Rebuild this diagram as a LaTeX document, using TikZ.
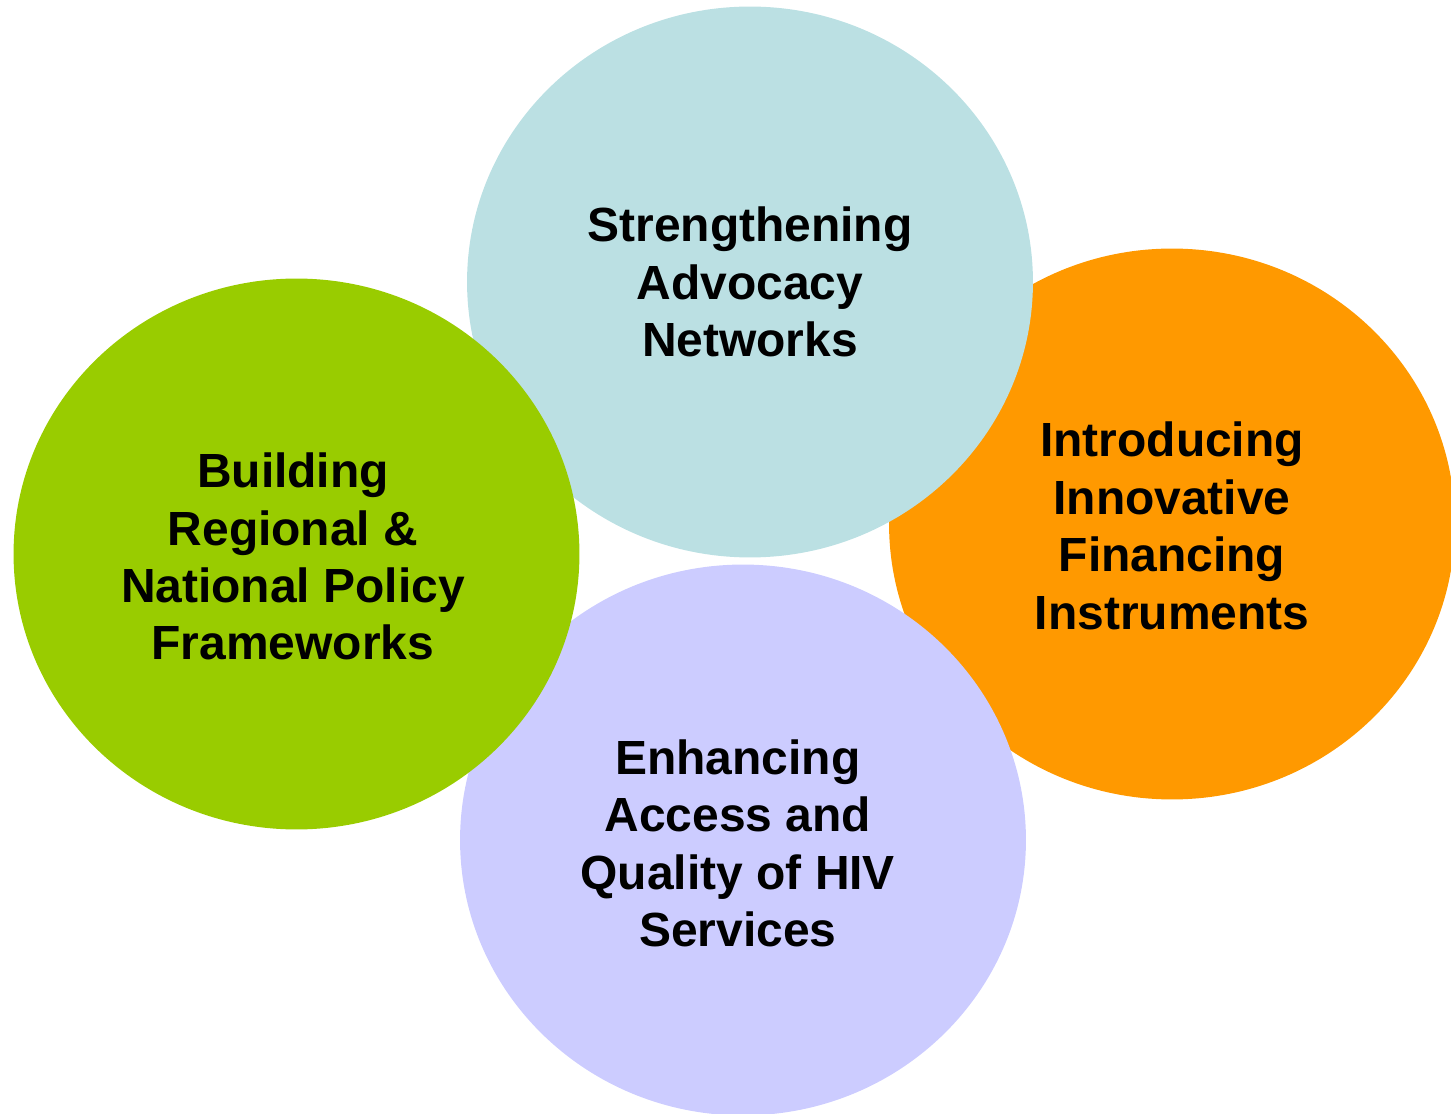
\documentclass[tikz,border=0pt]{standalone}
\usepackage{fontspec}
\setmainfont{Liberation Sans}
\usepackage{tikz}
\usetikzlibrary{shapes.geometric, positioning}
\definecolor{advocacyblue}{HTML}{BBE0E3}
\definecolor{policygreen}{HTML}{99CC00}
\definecolor{financeorange}{HTML}{FF9900}
\definecolor{servicelilac}{HTML}{CCCCFF}

\begin{document}
\begin{tikzpicture}[x=0.02cm,y=-0.02cm,
    area/.style={ellipse,draw=none,inner sep=0pt,minimum width=11.32cm,minimum height=11.02cm},
    topic/.style={align=center,font=\bfseries\fontsize{27.3}{32.7}\selectfont}]
            \useasboundingbox (0,0) rectangle (1451,1114);
            % circles, back to front
            \node[area,fill=financeorange] (finance) at (1172,524) {};
            \node[area,fill=advocacyblue] (advocacy) at (750,282) {};
            \node[area,fill=servicelilac] (services) at (743,840) {};
            \node[area,fill=policygreen] (policy) at (296.5,554) {};
            % labels
            \node[topic] (advocacytext) at ([yshift=0pt]advocacy) {Strengthening\\Advocacy\\Networks};
            \node[topic] (financetext) at ([yshift=-1pt]finance) {Introducing\\Innovative\\Financing\\Instruments};
            \node[topic] (servicestext) at ([xshift=-3pt,yshift=-2pt]services) {Enhancing\\Access and\\Quality of HIV\\Services};
            \node[topic] (policytext) at ([xshift=-2pt,yshift=-1.5pt]policy) {Building\\Regional \&\\National Policy\\Frameworks};
        \end{tikzpicture}
\end{document}
